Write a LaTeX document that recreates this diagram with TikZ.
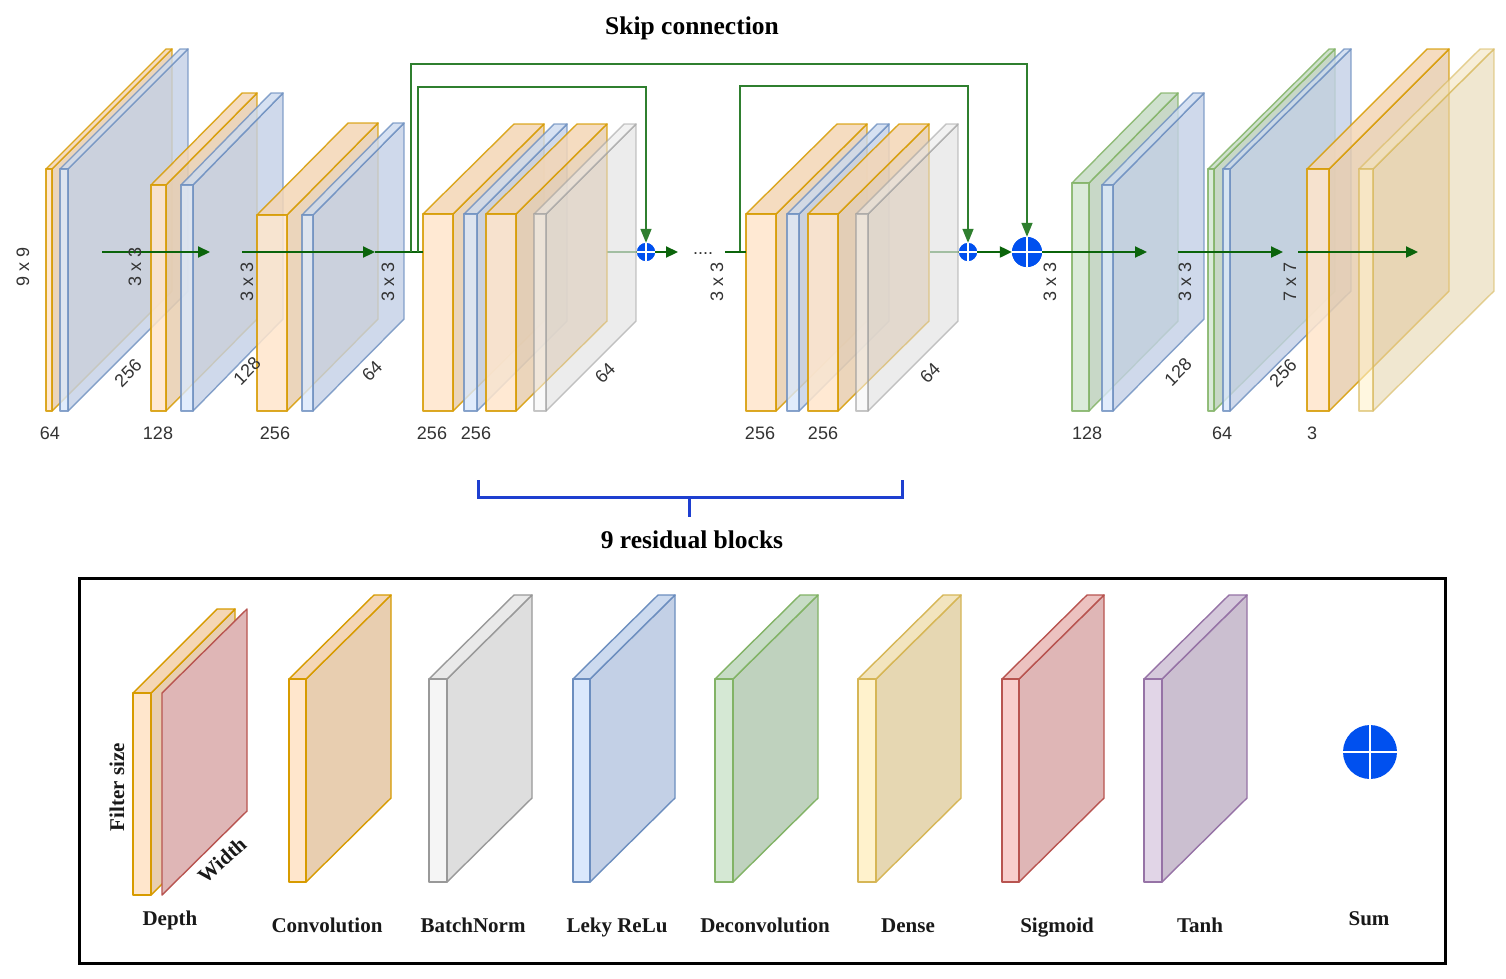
\documentclass[tikz,border=0pt]{standalone}
\usepackage{fontspec}
\setmainfont{Liberation Serif}
\setsansfont{Liberation Sans}
\usetikzlibrary{arrows.meta}
\definecolor{orF}{HTML}{FFE6CC}\definecolor{orT}{HTML}{F4D6B6}\definecolor{orS}{HTML}{E8CEB0}\definecolor{orD}{HTML}{D79B00}
\definecolor{blF}{HTML}{DAE8FC}\definecolor{blT}{HTML}{CCDAEF}\definecolor{blS}{HTML}{C3D0E6}\definecolor{blD}{HTML}{6C8EBF}
\definecolor{grF}{HTML}{F5F5F5}\definecolor{grT}{HTML}{E9E9E9}\definecolor{grS}{HTML}{DEDEDE}\definecolor{grD}{HTML}{999999}
\definecolor{gnF}{HTML}{D5E8D4}\definecolor{gnT}{HTML}{C7DCC6}\definecolor{gnS}{HTML}{BFD2BE}\definecolor{gnD}{HTML}{82B366}
\definecolor{ylF}{HTML}{FFF2CC}\definecolor{ylT}{HTML}{F2E4BE}\definecolor{ylS}{HTML}{E6D7B2}\definecolor{ylD}{HTML}{D6B656}
\definecolor{rdF}{HTML}{F8CECC}\definecolor{rdT}{HTML}{ECC2C0}\definecolor{rdS}{HTML}{DFB6B6}\definecolor{rdD}{HTML}{B85450}
\definecolor{puF}{HTML}{E1D5E7}\definecolor{puT}{HTML}{D5C9DB}\definecolor{puS}{HTML}{CBBFD0}\definecolor{puD}{HTML}{9673A6}
\definecolor{arrowgreen}{HTML}{0B640B}
\definecolor{skipgreen}{HTML}{2F7F2F}
\definecolor{sumblue}{HTML}{0050EF}
\definecolor{brackblue}{HTML}{1E3FD0}
\definecolor{numgray}{HTML}{333333}
% #1 colour prefix, #2 x0, #3 x1, #4 ytop, #5 ybot, #6 ox, #7 oy, #8 opacity
\newcommand\slab[8]{%
  \begin{scope}[line width=1.4pt, line join=round, opacity=#8]
    \filldraw[draw=#1D, fill=#1S] (#3,#4) -- ++(#6,-#7) -- ++(0,#5-#4) -- (#3,#5) -- cycle;
    \filldraw[draw=#1D, fill=#1T] (#2,#4) -- ++(#6,-#7) -- ++(#3-#2,0) -- (#3,#4) -- cycle;
    \filldraw[draw=#1D, fill=#1F] (#2,#4) rectangle (#3,#5);
  \end{scope}}
\begin{document}
\begin{tikzpicture}[x=1pt,y=-1pt,
  num/.style={font=\sffamily\fontsize{18}{20}\selectfont,text=numgray,inner sep=0pt},
  lbl/.style={font=\bfseries\fontsize{21}{24}\selectfont,text=black!90,inner sep=0pt},
  lblb/.style={lbl,anchor=base},
  ttl/.style={font=\bfseries\fontsize{25.5}{28}\selectfont,inner sep=0pt},
  mainarrow/.style={draw=arrowgreen,line width=2.2pt,-{Triangle[length=12pt,width=11pt]}},
  mainline/.style={draw=arrowgreen,line width=2.2pt},
  skiparrow/.style={draw=skipgreen,line width=1.6pt,-{Triangle[length=14pt,width=11pt]}},
  faint/.style={draw=skipgreen!80,line width=1.5pt},
  sumbase/.style={circle,fill=sumblue,inner sep=0pt,draw=none},
  sumsmall/.style={sumbase,minimum size=18pt,path picture={\draw[white,line width=1.2pt] (path picture bounding box.north) -- (path picture bounding box.south) (path picture bounding box.west) -- (path picture bounding box.east);}},
  sumbig/.style={sumbase,minimum size=30pt,path picture={\draw[white,line width=1.8pt] (path picture bounding box.north) -- (path picture bounding box.south) (path picture bounding box.west) -- (path picture bounding box.east);}},
  sumlegend/.style={sumbase,minimum size=54pt,path picture={\draw[white,line width=2.6pt] (path picture bounding box.north) -- (path picture bounding box.south) (path picture bounding box.west) -- (path picture bounding box.east);}},
]
\useasboundingbox (0,0) rectangle (1506,978);
\fill[white] (0,0) rectangle (1506,978);

% ---------- encoder ----------
\slab{or}{46}{52}{169}{411}{120}{120}{0.85}
\slab{bl}{60}{68}{169}{411}{120}{120}{0.8}
\slab{or}{151}{166}{185}{411}{91}{92}{0.85}
\slab{bl}{181}{193}{185}{411}{90}{92}{0.8}
\slab{or}{257}{287}{215}{411}{91}{92}{0.85}
\slab{bl}{302}{313}{215}{411}{91}{92}{0.8}

% sum nodes
\node[sumsmall] (sum1) at (646,252) {};
\node[sumsmall] (sum2) at (968,252) {};
\node[sumbig] (bigsum) at (1027,252) {};

% faint lines behind residual blocks
\coordinate (r1out) at (607,252);
\coordinate (r2out) at (930,252);
\draw[faint] (r1out) -- (sum1.west);
\draw[faint] (r2out) -- (sum2.west);

% ---------- residual block 1 ----------
\slab{or}{423}{453}{214}{411}{91}{90}{0.85}
\slab{bl}{464}{477}{214}{411}{90}{90}{0.8}
\slab{or}{486}{516}{214}{411}{91}{90}{0.85}
\slab{gr}{534}{546}{214}{411}{90}{90}{0.55}
% ---------- residual block 2 ----------
\slab{or}{746}{776}{214}{411}{91}{90}{0.85}
\slab{bl}{787}{799}{214}{411}{90}{90}{0.8}
\slab{or}{808}{838}{214}{411}{91}{90}{0.85}
\slab{gr}{856}{868}{214}{411}{90}{90}{0.55}

% ---------- decoder ----------
\slab{gn}{1072}{1089}{183}{411}{89}{90}{0.85}
\slab{bl}{1102}{1113}{185}{411}{91}{92}{0.8}
\slab{gn}{1208}{1214}{169}{411}{121}{120}{0.85}
\slab{bl}{1223}{1230}{169}{411}{121}{120}{0.8}
\slab{or}{1307}{1329}{169}{411}{120}{120}{0.85}
\slab{yl}{1359}{1373}{169}{411}{121}{120}{0.6}

% ---------- connectors ----------
\coordinate (a1s) at (102,252); \coordinate (a1e) at (210,252);
\coordinate (a2s) at (242,252); \coordinate (a2e) at (375,252);
\coordinate (b1in) at (423,252);
\coordinate (sk0) at (411,252); \coordinate (skA) at (411,64);
\coordinate (sk1) at (418,252); \coordinate (skB) at (418,87);
\coordinate (d1e) at (678,252);
\coordinate (b2s) at (725,252); \coordinate (b2in) at (746,252);
\coordinate (sk2) at (740,252); \coordinate (skC) at (740,86);
\coordinate (a3e) at (1147,252);
\coordinate (a4s) at (1178,252); \coordinate (a4e) at (1283,252);
\coordinate (a5s) at (1298,252); \coordinate (a5e) at (1418,252);

\draw[mainarrow] (a1s) -- (a1e);
\draw[mainarrow] (a2s) -- (a2e);
\draw[mainline] (a2e) -- (b1in);
\draw[skiparrow] (sk0) -- (skA) -| (bigsum.north);
\draw[skiparrow] (sk1) -- (skB) -| (sum1.north);
\draw[skiparrow] (sk2) -- (skC) -| (sum2.north);
\draw[mainarrow] (sum1.east) -- (d1e);
\draw[mainline] (b2s) -- (b2in);
\draw[mainarrow] (sum2.east) -- (bigsum.west);
\draw[mainarrow] (bigsum.east) -- (a3e);
\draw[mainarrow] (a4s) -- (a4e);
\draw[mainarrow] (a5s) -- (a5e);
\node[sumsmall] at (sum1) {};
\node[sumsmall] at (sum2) {};
\node[sumbig] at (bigsum) {};

\node[num,anchor=base] (dots) at (703,254) {....};

% ---------- labels ----------
\node[num,rotate=90] (f1) at (23,267) {9 x 9};
\node[num,rotate=90] (f2) at (135,267) {3 x 3};
\node[num,rotate=90] (f3) at (247,282) {3 x 3};
\node[num,rotate=90] (f4) at (388,282) {3 x 3};
\node[num,rotate=90] (f5) at (717,282) {3 x 3};
\node[num,rotate=90] (f6) at (1050,282) {3 x 3};
\node[num,rotate=90] (f7) at (1185,282) {3 x 3};
\node[num,rotate=90] (f8) at (1290,282) {7 x 7};

\node[num,rotate=45] (w1) at (128,373) {256};
\node[num,rotate=45] (w2) at (247,371) {128};
\node[num,rotate=45] (w3) at (372,371) {64};
\node[num,rotate=45] (w4) at (605,373) {64};
\node[num,rotate=45] (w5) at (930,373) {64};
\node[num,rotate=45] (w6) at (1178,372) {128};
\node[num,rotate=45] (w7) at (1283,373) {256};

\node[num] (d1) at (50,433) {64};
\node[num] (d2) at (158,433) {128};
\node[num] (d3) at (275,433) {256};
\node[num] (d4) at (432,433) {256};
\node[num] (d5) at (476,433) {256};
\node[num] (d6) at (760,433) {256};
\node[num] (d7) at (823,433) {256};
\node[num] (d8) at (1087,433) {128};
\node[num] (d9) at (1222,433) {64};
\node[num] (d10) at (1312,433) {3};

\node[ttl] (title) at (692,28) {Skip connection};
\node[ttl] (resblk) at (692,540) {9 residual blocks};
\draw[brackblue,line width=3pt] (478,480) -- (478,497) -- (902,497) -- (902,480);
\draw[brackblue,line width=3pt] (689,497) -- (689,517);

% ---------- legend ----------
\draw[line width=3pt] (79,578) rectangle (1445,963);
\slab{or}{133}{151}{693}{895}{84}{84}{1}
\filldraw[draw=rdD, fill=rdS, line width=1.4pt, line join=round] (162,693) -- ++(85,-84) -- ++(0,202) -- (162,895) -- cycle;
\slab{or}{289}{306}{679}{882}{85}{84}{1}
\slab{gr}{429}{447}{679}{882}{85}{84}{1}
\slab{bl}{573}{590}{679}{882}{85}{84}{1}
\slab{gn}{715}{733}{679}{882}{85}{84}{1}
\slab{yl}{858}{876}{679}{882}{85}{84}{1}
\slab{rd}{1002}{1019}{679}{882}{85}{84}{1}
\slab{pu}{1144}{1162}{679}{882}{85}{84}{1}
\node[sumlegend] (lsum) at (1370,752) {};

\node[lbl,rotate=90] (lfs) at (117,787) {Filter size};
\node[lbl,rotate=42] (lw) at (222,860) {Width};
\node[lblb] (ldep) at (170,925) {Depth};
\node[lblb] (lconv) at (327,932) {Convolution};
\node[lblb] (lbn) at (473,932) {BatchNorm};
\node[lblb] (llr) at (617,932) {Leky ReLu};
\node[lblb] (ldc) at (765,932) {Deconvolution};
\node[lblb] (lde) at (908,932) {Dense};
\node[lblb] (lsg) at (1057,932) {Sigmoid};
\node[lblb] (lth) at (1200,932) {Tanh};
\node[lblb] (lsm) at (1369,925) {Sum};
\end{tikzpicture}
\end{document}
